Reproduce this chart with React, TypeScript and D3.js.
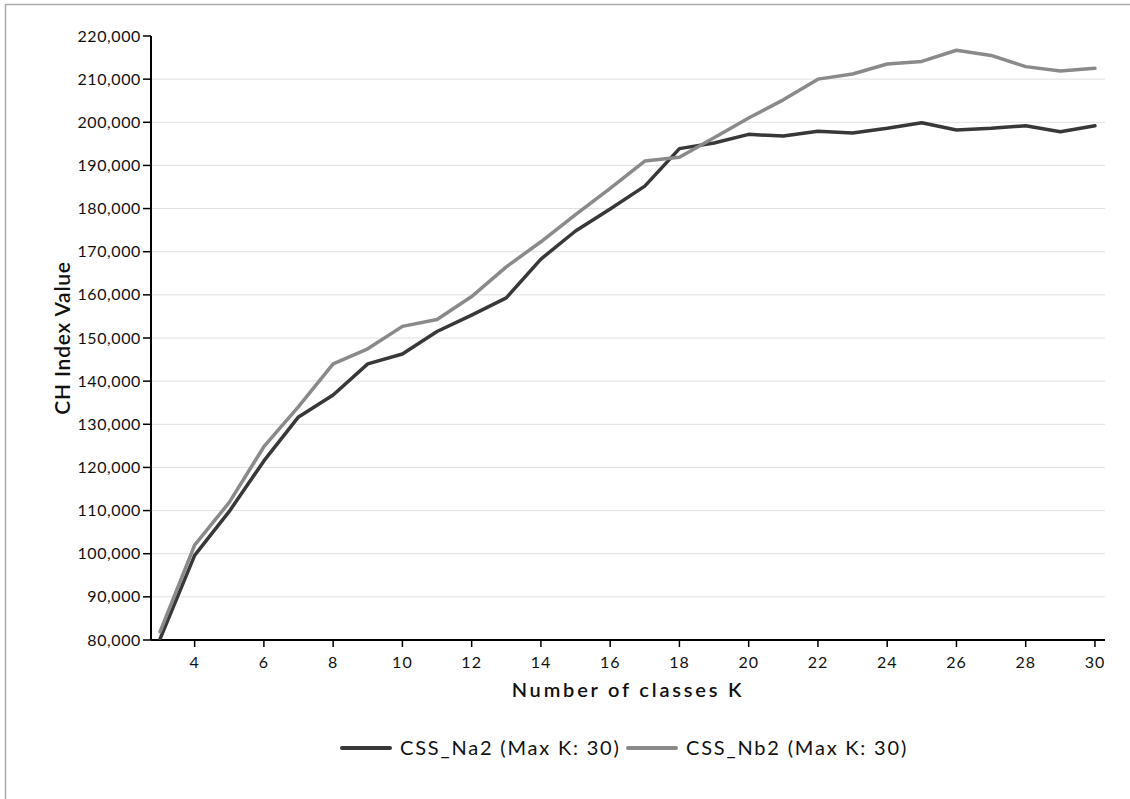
import React from "react";
import * as d3 from "d3";

const ks = [3,4,5,6,7,8,9,10,11,12,13,14,15,16,17,18,19,20,21,22,23,24,25,26,27,28,29,30];
const seriesNa2 = [80200,99600,109800,121500,131700,136800,144000,146300,151500,155300,159300,168300,174800,179900,185200,193900,195200,197200,196800,197900,197500,198600,199900,198200,198600,199200,197800,199200];
const seriesNb2 = [81900,102000,111900,124800,134100,144000,147500,152700,154300,159600,166500,172300,178600,184700,191000,191900,196400,201000,205200,210000,211200,213500,214100,216700,215500,212900,211900,212500];
const seriesNames = ["CSS_Na2 (Max K: 30)", "CSS_Nb2 (Max K: 30)"];
const seriesColors = ["#383838", "#8a8a8a"];
const xTicks = [4,6,8,10,12,14,16,18,20,22,24,26,28,30];
const yTicks = [80000,90000,100000,110000,120000,130000,140000,150000,160000,170000,180000,190000,200000,210000,220000];

const FONT = "Lato, 'Open Sans', sans-serif";

export default function App() {
  const W = 1130, H = 799;
  const left = 151, right = 1105, top = 36, bottom = 640;
  const x = d3.scaleLinear().domain([2.74, 30.29]).range([left, right]);
  const y = d3.scaleLinear().domain([80000, 220000]).range([bottom, top]);
  const fmt = d3.format(",");
  const line = d3.line<number>().x((_, i) => x(ks[i])).y((d) => y(d));
  const series = [seriesNa2, seriesNb2];
  return (
    <svg width={W} height={H} style={{ position: "absolute", left: 0, top: 0, background: "#fff" }} fontFamily={FONT}>
      <line x1={5} y1={4.5} x2={W} y2={4.5} stroke="#aaa" strokeWidth={1.5} />
      <line x1={5.5} y1={4} x2={5.5} y2={H} stroke="#aaa" strokeWidth={1.5} />
      {yTicks.slice(1, -1).map((t) => (
        <line key={"g" + t} x1={left} x2={right} y1={y(t)} y2={y(t)} stroke="#e0e0e0" strokeWidth={1} />
      ))}
      {yTicks.map((t) => (
        <g key={"y" + t}>
          <line x1={left - 8} x2={left} y1={y(t)} y2={y(t)} stroke="#000" strokeWidth={1.5} />
          <text x={left - 10} y={y(t)} dy="0.35em" textAnchor="end" fontSize={16} letterSpacing={0.6} fill="#111">{fmt(t)}</text>
        </g>
      ))}
      {xTicks.map((t) => (
        <g key={"x" + t}>
          <line x1={x(t)} x2={x(t)} y1={bottom} y2={bottom + 7} stroke="#000" strokeWidth={1.5} />
          <text x={x(t)} y={bottom + 28} textAnchor="middle" fontSize={16} letterSpacing={1} fill="#111">{t}</text>
        </g>
      ))}
      <line x1={left} x2={left} y1={top} y2={bottom} stroke="#000" strokeWidth={2} />
      <line x1={left} x2={right} y1={bottom} y2={bottom} stroke="#000" strokeWidth={2} />
      <defs>
        <clipPath id="plotclip">
          <rect x={left} y={top - 10} width={right - left} height={bottom - top + 10} />
        </clipPath>
      </defs>
      <g clipPath="url(#plotclip)">
        {series.map((s, i) => (
          <path key={i} d={line(s) || ""} fill="none" stroke={seriesColors[i]} strokeWidth={3.5} strokeLinejoin="round" strokeLinecap="round" />
        ))}
      </g>
      <text x={(left + right) / 2} y={697} textAnchor="middle" fontSize={20} fontWeight={600} letterSpacing={2.8} fill="#111">Number of classes K</text>
      <text transform={`translate(70,338) rotate(-90)`} textAnchor="middle" fontSize={21} fontWeight={600} letterSpacing={0.8} fill="#111">CH Index Value</text>
      {seriesNames.map((n, i) => {
        const x0 = i === 0 ? 342 : 628;
        return (
          <g key={n}>
            <line x1={x0} x2={x0 + 48} y1={748} y2={748} stroke={seriesColors[i]} strokeWidth={4} strokeLinecap="round" />
            <text x={x0 + 58} y={748} dy="0.35em" fontSize={20} letterSpacing={1.8} fill="#111">{n}</text>
          </g>
        );
      })}
    </svg>
  );
}
